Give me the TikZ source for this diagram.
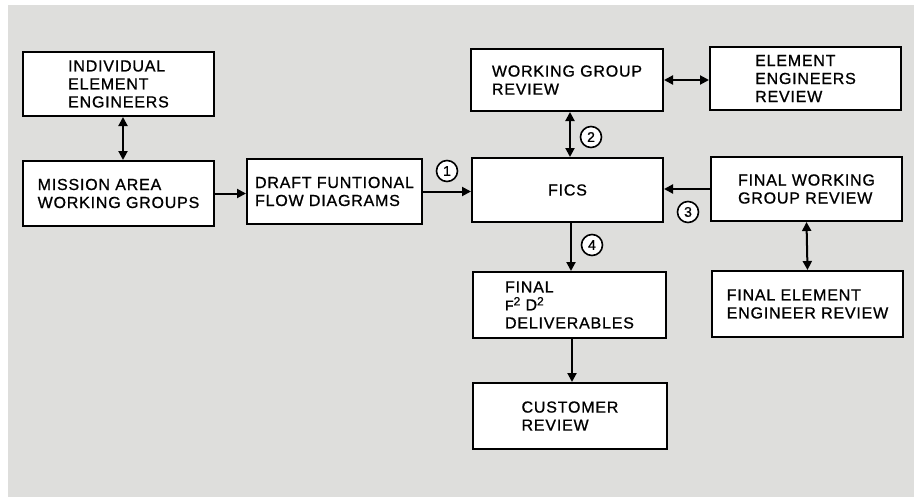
\documentclass[tikz,border=0pt]{standalone}
\usepackage{fontspec}
\setmainfont{Liberation Sans}[LetterSpace=5,FakeBold=0.9]
\usetikzlibrary{arrows.meta}
\definecolor{bggray}{RGB}{222,222,220}
\newcommand{\supnum}[1]{\raisebox{5pt}{\fontsize{12}{12}\selectfont #1}}
\begin{document}
\begin{tikzpicture}[x=1pt,y=-1pt,
  box/.style={draw=black,fill=white,line width=2pt,rectangle,align=left,
    font=\fontsize{16}{18}\selectfont,inner sep=0pt},
  num/.style={draw=black,fill=white,line width=1.6pt,circle,minimum size=21pt,
    inner sep=0pt,font=\fontsize{14}{14}\selectfont},
  arr/.style={line width=2pt,-{Triangle[length=9pt,width=9pt]}},
  biarr/.style={line width=2pt,{Triangle[length=9pt,width=9pt]}-{Triangle[length=9pt,width=9pt]}}]
\useasboundingbox (0,0) rectangle (918,501);
\fill[white] (0,0) rectangle (918,501);
\fill[bggray] (8,5) rectangle (914,497);

\node[box,minimum width=191pt,minimum height=64pt] (iee) at (118.5,84) {INDIVIDUAL\\ELEMENT\\ENGINEERS};
\node[box,minimum width=191pt,minimum height=65pt] (mawg) at (118.5,193.5) {MISSION AREA\\WORKING GROUPS};
\node[box,minimum width=175pt,minimum height=65pt] (dffd) at (334.5,191.5) {DRAFT FUNTIONAL\\FLOW DIAGRAMS};
\node[box,minimum width=192pt,minimum height=62pt] (wgr) at (567,80) {WORKING GROUP\\REVIEW};
\node[box,minimum width=191pt,minimum height=63pt] (eer) at (805.5,78.5) {ELEMENT\\ENGINEERS\\REVIEW};
\node[box,minimum width=191pt,minimum height=64pt] (fics) at (567.5,190) {FICS};
\node[box,minimum width=191pt,minimum height=64pt] (fwgr) at (806.5,189) {FINAL WORKING\\GROUP REVIEW};
\node[box,minimum width=193pt,minimum height=66pt] (final) at (569.5,305) {FINAL\\{\fontsize{14}{18}\selectfont F}\supnum{2} D\supnum{2}\\DELIVERABLES};
\node[box,minimum width=194pt,minimum height=66pt] (cust) at (570,416) {CUSTOMER\\REVIEW};
\node[box,minimum width=191pt,minimum height=66pt] (feer) at (807.5,304) {FINAL ELEMENT\\ENGINEER REVIEW};

\draw[biarr] (iee.south -| 123,0) -- (mawg.north -| 123,0);
\draw[arr] (mawg.east) -- (mawg.east -| dffd.west);
\draw[arr] (dffd.east) -- (dffd.east -| fics.west);
\draw[biarr] (wgr.south -| 570,0) -- (fics.north -| 570,0);
\draw[biarr] (wgr.east) -- (wgr.east -| eer.west);
\draw[arr] (fwgr.west) -- (fwgr.west -| fics.east);
\draw[biarr] (fwgr.south) -- (feer.north);
\draw[arr] (fics.south -| 571,0) -- (final.north -| 571,0);
\draw[arr] (final.south -| 572,0) -- (cust.north -| 572,0);

\node[num] (c1) at (447,171) {1};
\node[num] (c2) at (591,137) {2};
\node[num] (c3) at (688,212) {3};
\node[num] (c4) at (592,245) {4};
\end{tikzpicture}
\end{document}
